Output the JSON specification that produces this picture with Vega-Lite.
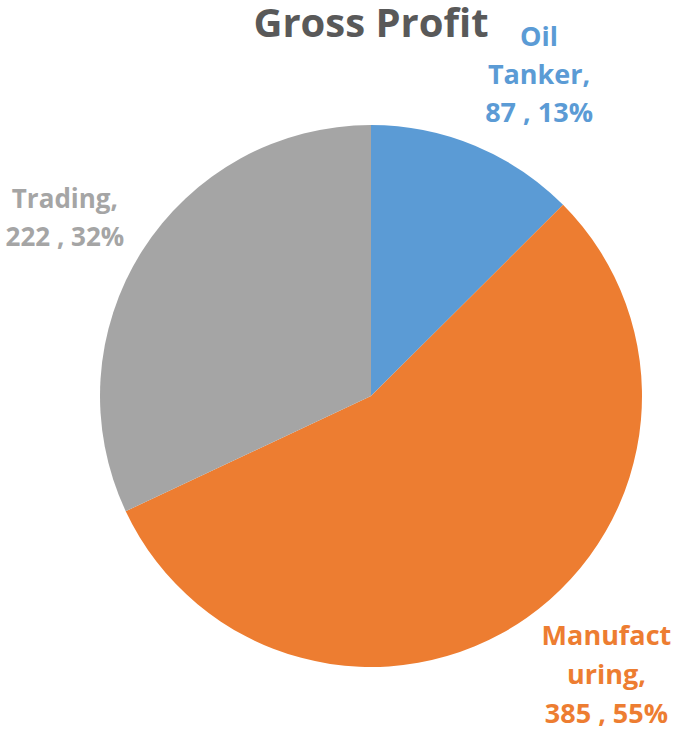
{
  "$schema": "https://vega.github.io/schema/vega-lite/v6.json",
  "autosize": "none",
  "width": 618,
  "height": 668,
  "padding": {"left": 62, "top": 62, "right": 0, "bottom": 0},
  "background": "white",
  "title": {
    "text": "Gross Profit",
    "font": "Open Sans",
    "fontWeight": "bold",
    "fontSize": 40,
    "color": "#595959",
    "anchor": "middle",
    "offset": -58
  },
  "data": {
    "values": [
      {"segment": "Oil Tanker", "value": 87, "idx": 1, "label": "Oil\nTanker,\n87 , 13%"},
      {"segment": "Manufacturing", "value": 385, "idx": 2, "label": "Manufact\nuring,\n385 , 55%"},
      {"segment": "Trading", "value": 222, "idx": 3, "label": "Trading,\n222 , 32%"}
    ]
  },
  "encoding": {
    "theta": {"field": "value", "type": "quantitative", "stack": true},
    "order": {"field": "idx", "type": "quantitative"},
    "color": {
      "field": "segment",
      "type": "nominal",
      "scale": {"domain": ["Oil Tanker", "Manufacturing", "Trading"], "range": ["#5B9BD5", "#ED7D31", "#A5A5A5"]},
      "legend": null
    }
  },
  "layer": [
    {"mark": {"type": "arc", "outerRadius": 271, "stroke": null}},
    {
      "mark": {"type": "text", "radius": 365, "dx": 28, "dy": -21, "font": "Open Sans", "fontWeight": "bold", "fontSize": 27, "lineBreak": "\n", "lineHeight": 38, "align": "center", "baseline": "middle"},
      "encoding": {"text": {"condition": {"test": "datum.segment === 'Oil Tanker'", "field": "label"}, "value": ""}}
    },
    {
      "mark": {"type": "text", "radius": 365, "dx": 26, "dy": -58, "font": "Open Sans", "fontWeight": "bold", "fontSize": 27, "lineBreak": "\n", "lineHeight": 39, "align": "center", "baseline": "middle"},
      "encoding": {"text": {"condition": {"test": "datum.segment === 'Manufacturing'", "field": "label"}, "value": ""}}
    },
    {
      "mark": {"type": "text", "radius": 365, "dx": 2, "dy": 0, "font": "Open Sans", "fontWeight": "bold", "fontSize": 26, "lineBreak": "\n", "lineHeight": 38, "align": "center", "baseline": "middle"},
      "encoding": {"text": {"condition": {"test": "datum.segment === 'Trading'", "field": "label"}, "value": ""}}
    }
  ],
  "config": {"view": {"stroke": null}}
}
